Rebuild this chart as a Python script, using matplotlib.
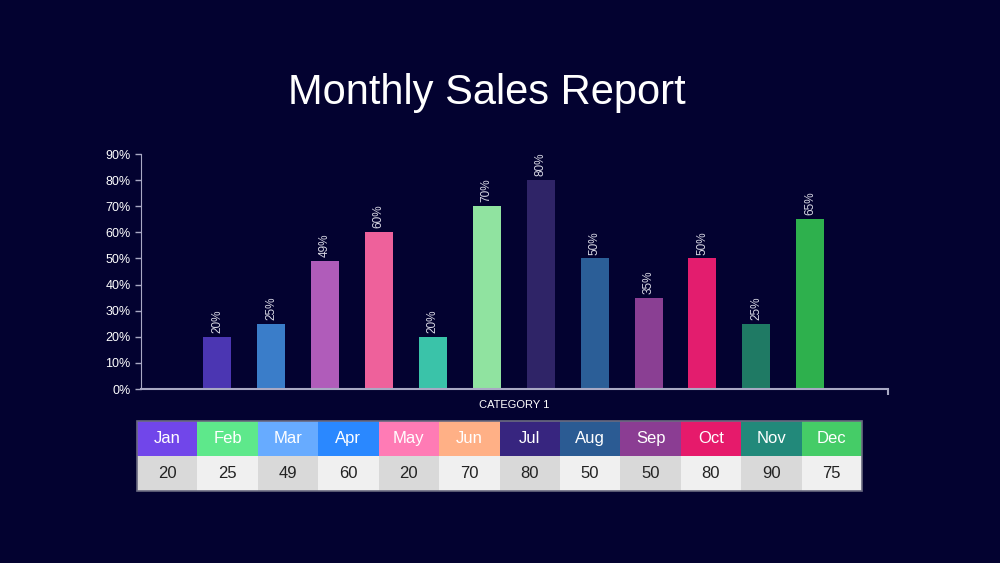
import matplotlib.pyplot as plt
from matplotlib.ticker import PercentFormatter

plt.rcParams['font.family'] = ['Liberation Sans', 'DejaVu Sans']

# daten
monate = ['Jan', 'Feb', 'Mar', 'Apr', 'May', 'Jun', 'Jul', 'Aug', 'Sep', 'Oct', 'Nov', 'Dec']
anteil = [20, 25, 49, 60, 20, 70, 80, 50, 35, 50, 25, 65]      # balken in %
tabelle_werte = [20, 25, 49, 60, 20, 70, 80, 50, 50, 80, 90, 75]

balken_farben = ['#4b36b2', '#3a7dc9', '#b05cba', '#ee619b', '#3ac3a9', '#90e3a0',
                 '#2f2467', '#2b5e97', '#8a3f93', '#e31d6e', '#1f7a64', '#2eb04d']
kopf_farben = ['#7146ea', '#5ee88b', '#67abff', '#2a88ff', '#ff7bb5', '#ffb086',
               '#37257f', '#2b5b93', '#8b3d93', '#e61a6b', '#22897a', '#45cc67']

hintergrund = '#030230'
achse = '#a9a9c4'

fig = plt.figure(figsize=(10, 5.63), dpi=100, facecolor=hintergrund)

# titel
fig.text(0.487, 0.834, 'Monthly Sales Report', color='white', fontsize=30,
         ha='center', va='center')

# balkendiagramm
ax = fig.add_axes([0.141, 0.309, 0.747, 0.4174])
ax.set_facecolor(hintergrund)
x = list(range(len(monate)))
ax.bar(x, anteil, width=0.52, color=balken_farben)

for xi, wert in zip(x, anteil):
    ax.text(xi, wert + 1.5, f'{wert}%', rotation=90, ha='center', va='bottom',
            color='#d8d8e4', fontsize=8.5)

ax.set_ylim(0, 90)
ax.set_xlim(-1.41, 12.44)
ax.set_yticks(range(0, 91, 10))
ax.yaxis.set_major_formatter(PercentFormatter(decimals=0))
ax.set_xticks([12.44])
ax.set_xticklabels([''])
ax.tick_params(axis='y', colors=achse, labelcolor='white', labelsize=9, length=4, width=1)
ax.tick_params(axis='x', colors=achse, length=4, width=1.5)

for seite in ['top', 'right']:
    ax.spines[seite].set_visible(False)
ax.spines['left'].set_color(achse)
ax.spines['bottom'].set_color(achse)
ax.spines['bottom'].set_linewidth(1.5)

# achsen titel unter der achse
fig.text(0.5145, 0.2806, 'CATEGORY 1', color='white', fontsize=8,
         ha='center', va='center')

# tabelle unten
tab_ax = fig.add_axes([0.137, 0.128, 0.725, 0.1243])
tab_ax.axis('off')
zeilen = [monate, [str(v) for v in tabelle_werte]]
tab = tab_ax.table(cellText=zeilen, cellLoc='center', bbox=[0, 0, 1, 1])
tab.auto_set_font_size(False)
for (r, c), zelle in tab.get_celld().items():
    zelle.set_edgecolor('none')
    if r == 0:
        zelle.set_facecolor(kopf_farben[c])
        zelle.get_text().set_color('white')
    else:
        zelle.set_facecolor('#d9d9d9' if c % 2 == 0 else '#f0f0f0')
        zelle.get_text().set_color('#222222')
    zelle.get_text().set_fontsize(12)

rahmen = plt.Rectangle((0, 0), 1, 1, transform=tab_ax.transAxes, fill=False,
                       edgecolor='#6a6a80', linewidth=1.2, clip_on=False)
tab_ax.add_patch(rahmen)

# speicher als png
plt.savefig('out.png', dpi=100, facecolor=hintergrund)
